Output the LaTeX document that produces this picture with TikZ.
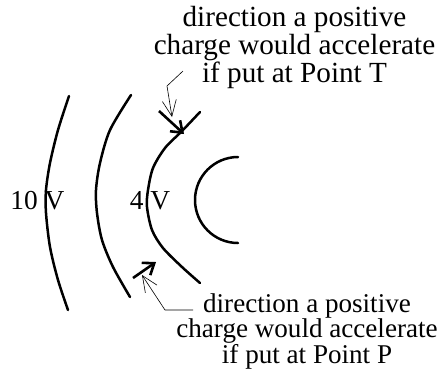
\documentclass[tikz,border=0pt]{standalone}
\usepackage{fontspec}
\setmainfont{Liberation Serif}
\usetikzlibrary{arrows.meta}
\begin{document}
\begin{tikzpicture}[x=1bp,y=-1bp,
  equi/.style={line width=2.5bp, line cap=round},
  force/.style={line width=2.6bp, -{Straight Barb[length=10bp,width=15bp]}},
  leader/.style={line width=0.6bp, -{Straight Barb[length=16bp,width=14bp]}},
  topcapstyle/.style={font=\fontsize{29.3}{26.5}\selectfont, align=center, inner sep=0pt, anchor=base},
  botcapstyle/.style={font=\fontsize{27.2}{25}\selectfont, align=center, inner sep=0pt, anchor=base},
  vlabel/.style={font=\fontsize{27.5}{27.5}\selectfont, inner sep=0pt, anchor=base}]
\useasboundingbox (0,0) rectangle (445,371);

% equipotential lines
\draw[equi] plot[smooth] coordinates {(69,96) (58,130) (50,163) (46,190) (46,213) (50,247) (58,280) (68,310)};
\draw[equi] plot[smooth] coordinates {(131,95) (110,130) (100,163) (96,190) (97,213) (102,240) (113,267) (130,297)};
\draw[equi] plot[smooth] coordinates {(200,112) (182,131) (165,148) (153,168) (148,190) (147,207) (152,230) (163,248) (182,267) (200,283)};
\draw[equi] (238,157) arc[start angle=270, end angle=90, radius=43];

% potential labels
\node[vlabel] (v10) at (37.5,209) {10 V};
\node[vlabel] (v4) at (150,209) {4 V};

% force arrows
\coordinate (Ttail) at (159,111);
\coordinate (T) at (184,134);
\draw[force] (Ttail) -- (T);
\coordinate (Ptail) at (133,278);
\coordinate (P) at (156,262);
\draw[force] (Ptail) -- (P);

% captions
\node[topcapstyle] (topcap) at (294.5,82) {direction a positive\\charge would accelerate\\if put at Point T};
\node[botcapstyle] (botcap) at (307,363) {direction a positive\\charge would accelerate\\if put at Point P};

% leaders
\coordinate (tl0) at (183,71);
\coordinate (tl1) at (167,86);
\coordinate (tltip) at (172,117);
\draw[leader] (tl0) -- (tl1) -- (tltip);
\coordinate (bl0) at (193,310);
\coordinate (bl1) at (165,310);
\coordinate (bltip) at (142,275);
\draw[leader] (bl0) -- (bl1) -- (bltip);
\end{tikzpicture}
\end{document}
